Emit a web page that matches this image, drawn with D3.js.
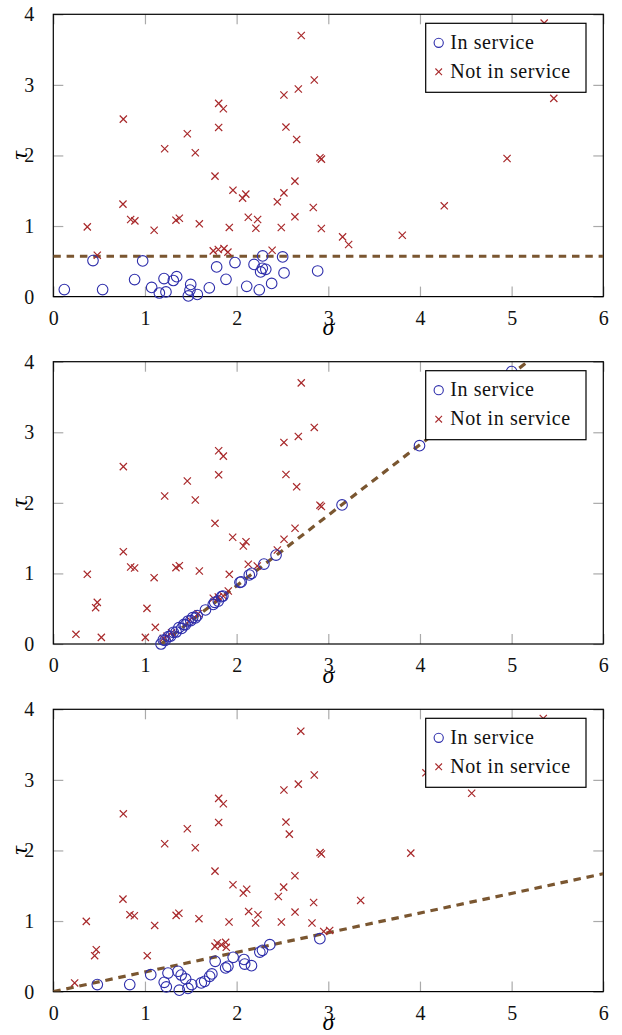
<!DOCTYPE html>
<html>
<head>
<meta charset="utf-8">
<script src="https://cdn.jsdelivr.net/npm/d3@7"></script>
<style>
  body { margin: 0; background: #fff; }
  svg { display: block; }
</style>
</head>
<body>
<script>
// ---- data ----
var xTicks = [0, 1, 2, 3, 4, 5, 6];
var yTicks = [0, 1, 2, 3, 4];
var legendLabels = ["In service", "Not in service"];

// panel 1: horizontal threshold
var p1In = [[0.12,0.10],[0.433,0.511],[0.538,0.10],[0.887,0.241],[0.975,0.505],[1.073,0.13],[1.157,0.051],
  [1.229,0.066],[1.208,0.255],[1.309,0.228],[1.346,0.282],[1.499,0.172],[1.491,0.092],[1.473,0.01],
  [1.571,0.03],[1.702,0.125],[1.782,0.42],[1.884,0.245],[1.982,0.482],[2.11,0.146],[2.19,0.456],
  [2.247,0.096],[2.284,0.576],[2.262,0.35],[2.28,0.40],[2.318,0.387],[2.382,0.187],[2.502,0.562],
  [2.517,0.335],[2.884,0.363]];
var p1Out = [[0.371,0.988],[0.48,0.586],[0.764,2.515],[0.76,1.31],[0.844,1.092],[0.89,1.073],[1.10,0.94],
  [1.215,2.095],[1.338,1.083],[1.375,1.11],[1.462,2.307],[1.549,2.038],[1.593,1.031],[1.764,1.707],
  [1.804,2.738],[1.855,2.662],[1.804,2.397],[1.745,0.648],[1.8,0.667],[1.862,0.68],[1.905,0.63],
  [1.92,0.98],[1.96,1.508],[2.065,1.395],[2.10,1.452],[2.127,1.125],[2.229,1.092],[2.21,0.968],
  [2.387,0.657],[2.444,1.343],[2.516,2.856],[2.516,1.47],[2.487,0.979],[2.538,2.402],[2.655,2.227],
  [2.636,1.636],[2.636,1.13],[2.673,2.941],[2.705,3.70],[2.847,3.069],[2.836,1.262],[2.909,1.967],
  [2.925,1.948],[2.924,0.965],[3.156,0.846],[3.222,0.738],[3.807,0.87],[4.265,1.286],[4.95,1.957],
  [5.46,2.809],[5.355,3.875]];
var p1Line = [[0,0.572],[6,0.572]];

// panel 2: sloped boundary
var p2In = [[1.175,0.0],[1.20,0.057],[1.22,0.05],[1.255,0.104],[1.28,0.11],[1.31,0.165],[1.34,0.17],
  [1.37,0.231],[1.40,0.22],[1.425,0.278],[1.44,0.27],[1.47,0.326],[1.50,0.33],[1.52,0.373],[1.55,0.37],
  [1.57,0.401],[1.66,0.482],[1.745,0.56],[1.76,0.59],[1.80,0.609],[1.836,0.67],[1.85,0.68],
  [2.036,0.874],[2.05,0.88],[2.138,0.978],[2.164,1.001],[2.298,1.133],[2.43,1.26],[3.15,1.97],
  [3.995,2.81],[5.0,3.86]];
var p2Out = [[0.247,0.137],[0.371,0.987],[0.462,0.515],[0.48,0.59],[0.524,0.094],[0.764,2.513],
  [0.764,1.308],[0.844,1.091],[0.887,1.077],[1.004,0.094],[1.022,0.505],[1.113,0.236],[1.10,0.94],
  [1.215,2.097],[1.338,1.082],[1.375,1.11],[1.462,2.31],[1.549,2.04],[1.593,1.034],[1.764,1.71],
  [1.804,2.738],[1.855,2.662],[1.804,2.397],[1.20,0.08],[1.24,0.11],[1.29,0.16],[1.49,0.34],
  [1.58,0.43],[1.745,0.648],[1.8,0.667],[1.855,0.68],[1.909,0.751],[1.92,0.987],[1.957,1.512],
  [2.073,1.389],[2.102,1.45],[2.127,1.13],[2.225,1.106],[2.444,1.332],[2.517,1.484],[2.637,1.64],
  [2.516,2.856],[2.538,2.402],[2.655,2.227],[2.673,2.941],[2.705,3.70],[2.847,3.069],[2.909,1.967],
  [2.925,1.948]];
var p2Line = [[1.175,0],[5.4,4.225]];

// panel 3: line through the origin
var p3In = [[0.48,0.10],[0.834,0.10],[1.063,0.24],[1.251,0.262],[1.21,0.132],[1.233,0.066],
  [1.36,0.288],[1.395,0.235],[1.444,0.18],[1.375,0.02],[1.469,0.045],[1.51,0.099],[1.614,0.123],
  [1.651,0.146],[1.706,0.217],[1.73,0.25],[1.766,0.429],[1.88,0.335],[1.905,0.358],[1.962,0.485],
  [2.08,0.455],[2.088,0.39],[2.162,0.368],[2.253,0.56],[2.282,0.585],[2.362,0.665],[2.908,0.75]];
var p3Out = [[0.233,0.123],[0.36,0.995],[0.451,0.509],[0.469,0.594],[0.764,2.519],[0.76,1.31],
  [0.836,1.09],[0.884,1.075],[1.025,0.509],[1.106,0.938],[1.215,2.095],[1.34,1.08],[1.37,1.11],
  [1.462,2.307],[1.549,2.038],[1.589,1.033],[1.764,1.707],[1.804,2.738],[1.855,2.662],[1.804,2.397],
  [1.764,0.641],[1.789,0.689],[1.833,0.665],[1.88,0.698],[1.887,0.627],[1.917,0.986],[1.96,1.514],
  [2.073,1.396],[2.11,1.45],[2.131,1.136],[2.233,1.089],[2.207,0.972],[2.455,1.348],[2.513,1.48],
  [2.488,0.986],[2.516,2.856],[2.538,2.402],[2.575,2.231],[2.636,1.642],[2.637,1.127],[2.673,2.94],
  [2.70,3.69],[2.847,3.069],[2.84,1.263],[2.822,0.972],[2.91,1.97],[2.925,1.95],[2.95,0.853],
  [3.015,0.867],[3.353,1.292],[3.90,1.962],[4.065,3.10],[4.564,2.811],[5.345,3.87]];
var p3Line = [[0,0],[6,1.67]];

var panels = [
  {top: 14.3, inS: p1In, outS: p1Out, line: p1Line},
  {top: 361.7, inS: p2In, outS: p2Out, line: p2Line},
  {top: 709.3, inS: p3In, outS: p3Out, line: p3Line}
];

var width = 622, height = 1035;
var left = 53.3, right = 603.3, plotH = 282.3;
var blue = "#2e2eab", red = "#a8292b", brown = "#7a5630";
var serif = "'Liberation Serif'";

var svg = d3.select("body").append("svg")
  .attr("width", width).attr("height", height);

var x = d3.scaleLinear().domain([0, 6]).range([left, right]);

panels.forEach(function(p, i) {
  var y = d3.scaleLinear().domain([0, 4]).range([p.top + plotH, p.top]);
  var g = svg.append("g");

  g.append("clipPath").attr("id", "clip" + i)
    .append("rect").attr("x", left).attr("y", p.top)
    .attr("width", right - left).attr("height", plotH);

  // ticks (inward on all four sides)
  var tickStyle = function(sel) {
    sel.select(".domain").remove();
    sel.selectAll(".tick line").attr("stroke", "#aaa").attr("stroke-width", 1.2);
    sel.selectAll(".tick text").attr("fill", "#111")
      .style("font-family", serif).style("font-size", "20px");
  };
  g.append("g").attr("transform", "translate(0," + (p.top + plotH) + ")")
    .call(d3.axisBottom(x).tickValues(xTicks).tickSize(-10).tickPadding(14).tickFormat(d3.format("d")))
    .call(tickStyle);
  g.append("g").attr("transform", "translate(0," + p.top + ")")
    .call(d3.axisTop(x).tickValues(xTicks).tickSize(-10).tickFormat(""))
    .call(tickStyle);
  g.append("g").attr("transform", "translate(" + left + ",0)")
    .call(d3.axisLeft(y).tickValues(yTicks).tickSize(-10).tickPadding(19).tickFormat(d3.format("d")))
    .call(tickStyle);
  g.append("g").attr("transform", "translate(" + right + ",0)")
    .call(d3.axisRight(y).tickValues(yTicks).tickSize(-10).tickFormat(""))
    .call(tickStyle);

  // frame
  g.append("rect").attr("x", left).attr("y", p.top)
    .attr("width", right - left).attr("height", plotH)
    .attr("fill", "none").attr("stroke", "#000").attr("stroke-width", 1.2);

  // dashed boundary
  g.append("path").datum(p.line)
    .attr("clip-path", "url(#clip" + i + ")")
    .attr("d", d3.line().x(d => x(d[0])).y(d => y(d[1])))
    .attr("fill", "none").attr("stroke", brown).attr("stroke-width", 3.2)
    .attr("stroke-dasharray", "7.5,5.8");

  // not in service: crosses
  g.append("g").selectAll("path").data(p.outS).join("path")
    .attr("transform", d => "translate(" + x(d[0]) + "," + y(d[1]) + ")")
    .attr("d", "M-3.6,-3.6L3.6,3.6M-3.6,3.6L3.6,-3.6")
    .attr("stroke", red).attr("stroke-width", 1.2).attr("fill", "none");

  // in service: circles
  g.append("g").selectAll("circle").data(p.inS).join("circle")
    .attr("cx", d => x(d[0])).attr("cy", d => y(d[1])).attr("r", 5.3)
    .attr("fill", "none").attr("stroke", blue).attr("stroke-width", 1.1);

  // axis titles
  g.append("text").attr("x", (left + right) / 2).attr("y", p.top + plotH + 38.5)
    .attr("text-anchor", "middle")
    .style("font-family", serif).style("font-style", "italic").style("font-size", "24px")
    .text("σ");
  g.append("text")
    .attr("transform", "translate(27," + (p.top + plotH / 2) + ") rotate(-90)")
    .attr("text-anchor", "middle")
    .style("font-family", serif).style("font-style", "italic").style("font-size", "24px")
    .text("τ");

  // legend
  var lg = g.append("g").attr("transform", "translate(425.7," + (p.top + 9) + ")");
  lg.append("rect").attr("width", 160.3).attr("height", 69)
    .attr("fill", "#fff").attr("stroke", "#000").attr("stroke-width", 1.2);
  lg.append("circle").attr("cx", 13).attr("cy", 19.5).attr("r", 4.6)
    .attr("fill", "none").attr("stroke", blue).attr("stroke-width", 1.1);
  lg.append("path").attr("transform", "translate(13,48.5)")
    .attr("d", "M-3.3,-3.3L3.3,3.3M-3.3,3.3L3.3,-3.3")
    .attr("stroke", red).attr("stroke-width", 1.1);
  lg.selectAll("text").data(legendLabels).join("text")
    .attr("x", 24.5).attr("y", (d, k) => 25.5 + k * 29)
    .attr("fill", "#111")
    .style("font-family", serif).style("font-size", "20px").style("letter-spacing", "0.6px")
    .text(d => d);
});
</script>
</body>
</html>
